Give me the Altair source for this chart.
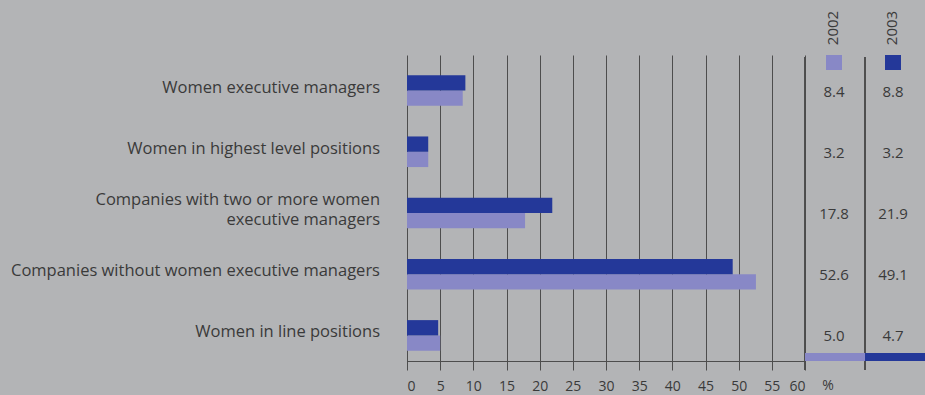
import altair as alt
import pandas as pd

categories = [
    "Women executive managers",
    "Women in highest level positions",
    "Companies with two or more women executive managers",
    "Companies without women executive managers",
    "Women in line positions",
]
labels = [
    "Women executive managers",
    "Women in highest level positions",
    "Companies with two or more women|executive managers",
    "Companies without women executive managers",
    "Women in line positions",
]
years = ["2002", "2003"]
values_2002 = [8.4, 3.2, 17.8, 52.6, 5.0]
values_2003 = [8.8, 3.2, 21.9, 49.1, 4.7]
x_ticks = list(range(0, 65, 5))

rows = []
for c, l, a, b in zip(categories, labels, values_2002, values_2003):
    rows.append(dict(category=c, label=l, year="2002", value=a))
    rows.append(dict(category=c, label=l, year="2003", value=b))
df = pd.DataFrame(rows)
df02 = df[df.year == "2002"]
df03 = df[df.year == "2003"]
lab_df = pd.DataFrame({"category": categories, "label": labels})
lab_single = lab_df[~lab_df.label.str.contains("|", regex=False)]
lab_multi = lab_df[lab_df.label.str.contains("|", regex=False)]

LIGHT = "#8888c6"
DARK = "#243899"
BG = "#b3b4b6"
FONT = "Open Sans"
TEXT = "#3a3a3a"
GRID = "#4d4d4d"

y_scale = alt.Scale(domain=categories, paddingInner=0.5, paddingOuter=0.29, align=0.57)
Y = alt.Y("category:N", scale=y_scale, sort=categories, axis=None)

bars = alt.Chart(df).mark_bar().encode(
    x=alt.X(
        "value:Q",
        scale=alt.Scale(domain=[0, 60], nice=False),
        axis=alt.Axis(
            values=x_ticks, grid=True, gridColor=GRID, gridWidth=1,
            tickSize=9, tickColor=GRID, domainColor=GRID, offset=-5,
            labelFont=FONT, labelFontSize=14, labelColor=TEXT, labelPadding=9,
            title=None,
        ),
    ),
    y=Y,
    yOffset=alt.YOffset("year:N", sort=["2003", "2002"],
                        scale=alt.Scale(domain=["2003", "2002"], paddingInner=0, paddingOuter=0)),
    color=alt.Color("year:N", scale=alt.Scale(domain=years, range=[LIGHT, DARK]), legend=None),
)

lab_style = dict(align="right", baseline="middle", lineBreak="|", fontSize=16.5,
                 font=FONT, color=TEXT, lineHeight=20)
cat_labels1 = alt.Chart(lab_single).mark_text(dy=-3, **lab_style).encode(
    y=Y, x=alt.value(-27), text="label:N")
cat_labels2 = alt.Chart(lab_multi).mark_text(dy=-13, **lab_style).encode(
    y=Y, x=alt.value(-27), text="label:N")

num_style = dict(fontSize=15, font=FONT, color=TEXT, dy=1)
t02 = alt.Chart(df02).mark_text(**num_style).encode(
    y=Y, x=alt.value(427), text=alt.Text("value:Q", format=".1f"))
t03 = alt.Chart(df03).mark_text(**num_style).encode(
    y=Y, x=alt.value(486), text=alt.Text("value:Q", format=".1f"))

tbl_line1 = alt.Chart(lab_df).mark_rule(color=GRID, strokeWidth=1).encode(
    x=alt.value(398), y=alt.value(2), y2=alt.value(315))
tbl_line2 = alt.Chart(lab_df).mark_rule(color=GRID, strokeWidth=1).encode(
    x=alt.value(458), y=alt.value(2), y2=alt.value(315))

strip02 = alt.Chart(lab_df).mark_rect(color=LIGHT).encode(
    x=alt.value(398), x2=alt.value(458), y=alt.value(298), y2=alt.value(306))
strip03 = alt.Chart(lab_df).mark_rect(color=DARK).encode(
    x=alt.value(458), x2=alt.value(518), y=alt.value(298), y2=alt.value(306))

head_style = dict(angle=270, fontSize=15, font=FONT, color=TEXT, baseline="middle", align="center")
head02 = alt.Chart(pd.DataFrame({"year": ["2002"]})).mark_text(**head_style).encode(
    x=alt.value(426), y=alt.value(-27), text="year:N")
head03 = alt.Chart(pd.DataFrame({"year": ["2003"]})).mark_text(**head_style).encode(
    x=alt.value(485), y=alt.value(-27), text="year:N")

sq02 = alt.Chart(lab_df).mark_rect(color=LIGHT).encode(
    x=alt.value(419), x2=alt.value(435), y=alt.value(0), y2=alt.value(15))
sq03 = alt.Chart(lab_df).mark_rect(color=DARK).encode(
    x=alt.value(478), x2=alt.value(494), y=alt.value(0), y2=alt.value(15))

pct = alt.Chart(pd.DataFrame({"t": ["%"]})).mark_text(
    fontSize=14, font=FONT, color=TEXT, baseline="middle"
).encode(x=alt.value(421), y=alt.value(331), text="t:N")

chart = alt.layer(
    tbl_line1, tbl_line2, bars, strip02, strip03, cat_labels1, cat_labels2, t02, t03,
    head02, head03, sq02, sq03, pct,
).properties(
    width=398, height=311, autosize="none",
    padding={"left": 407, "top": 55, "right": 120, "bottom": 29},
).configure(background=BG).configure_view(strokeWidth=0)

chart.save("out.html", embed_options={"renderer": "svg", "actions": False})
